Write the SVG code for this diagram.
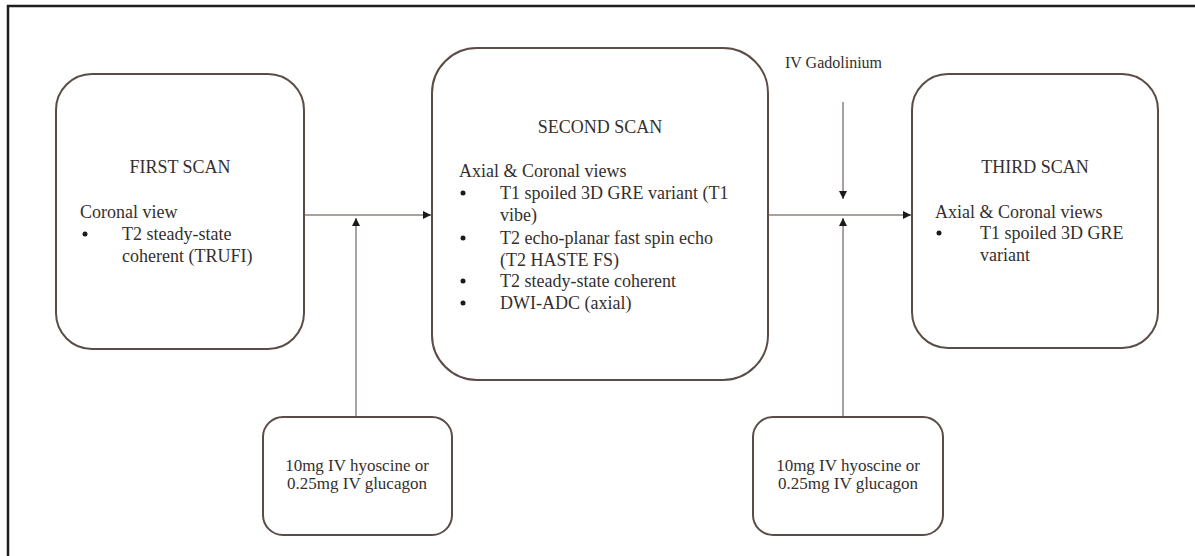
<svg xmlns="http://www.w3.org/2000/svg" width="1195" height="556" viewBox="0 0 1195 556">
<defs>
<style>
.box{fill:#ffffff;stroke:#5a4c47;stroke-width:2}
.conn{fill:none;stroke:#8e807c;stroke-width:1.5}
.t{font-family:"Liberation Serif","Times New Roman",serif;font-size:18px;fill:#352f2e}
.s{font-family:"Liberation Serif","Times New Roman",serif;font-size:17px;fill:#352f2e}
.g{font-family:"Liberation Serif","Times New Roman",serif;font-size:16px;fill:#352f2e}
.c{text-anchor:middle}
.b{fill:#1e1a1a}
</style>
<marker id="ah" viewBox="0 0 8 8" refX="8" refY="4" markerWidth="8" markerHeight="8" markerUnits="userSpaceOnUse" orient="auto">
<path d="M0,0 L8,4 L0,8 Z" fill="#1e1a1a"/>
</marker>
</defs>
<rect x="0" y="0" width="1195" height="556" fill="#ffffff"/>
<path d="M8,556 V6 H1195" fill="none" stroke="#1f1f1f" stroke-width="2.5"/>

<g id="connectors">
<line class="conn" x1="304" y1="215" x2="431" y2="215" marker-end="url(#ah)"/>
<line class="conn" x1="768" y1="215" x2="911" y2="215" marker-end="url(#ah)"/>
<line class="conn" x1="356" y1="417" x2="356" y2="218" marker-end="url(#ah)"/>
<line class="conn" x1="843" y1="417" x2="843" y2="218" marker-end="url(#ah)"/>
<line class="conn" x1="843" y1="102" x2="843" y2="199" marker-end="url(#ah)"/>
</g>

<g id="first-scan">
<rect class="box" x="56" y="74" width="248" height="275" rx="36" ry="36"/>
<text class="t c" x="180" y="173">FIRST SCAN</text>
<text class="t" x="80" y="218">Coronal view</text>
<circle class="b" cx="85" cy="234" r="2.5"/>
<text class="t" x="122" y="240">T2 steady-state</text>
<text class="t" x="122" y="262">coherent (TRUFI)</text>
</g>

<g id="second-scan">
<rect class="box" x="432" y="48" width="336" height="332" rx="45" ry="45"/>
<text class="t c" x="600" y="133">SECOND SCAN</text>
<text class="t" x="459" y="177">Axial &amp; Coronal views</text>
<circle class="b" cx="463" cy="193" r="2.5"/>
<text class="t" x="500" y="199">T1 spoiled 3D GRE variant (T1</text>
<text class="t" x="500" y="221">vibe)</text>
<circle class="b" cx="463" cy="238" r="2.5"/>
<text class="t" x="500" y="244">T2 echo-planar fast spin echo</text>
<text class="t" x="500" y="266">(T2 HASTE FS)</text>
<circle class="b" cx="463" cy="281" r="2.5"/>
<text class="t" x="500" y="287">T2 steady-state coherent</text>
<circle class="b" cx="463" cy="303" r="2.5"/>
<text class="t" x="500" y="309">DWI-ADC (axial)</text>
</g>

<g id="third-scan">
<rect class="box" x="912" y="74" width="246" height="274" rx="36" ry="36"/>
<text class="t c" x="1035" y="173">THIRD SCAN</text>
<text class="t" x="935" y="218">Axial &amp; Coronal views</text>
<circle class="b" cx="939" cy="233" r="2.5"/>
<text class="t" x="980" y="239">T1 spoiled 3D GRE</text>
<text class="t" x="980" y="261">variant</text>
</g>

<g id="gadolinium">
<text class="g" x="785" y="68">IV Gadolinium</text>
</g>

<g id="antispasmodic-1">
<rect class="box" x="263" y="417" width="189" height="118" rx="20" ry="20"/>
<text class="s c" x="357" y="471">10mg IV hyoscine or</text>
<text class="s c" x="357" y="489">0.25mg IV glucagon</text>
</g>

<g id="antispasmodic-2">
<rect class="box" x="753" y="417" width="190" height="118" rx="20" ry="20"/>
<text class="s c" x="848" y="471">10mg IV hyoscine or</text>
<text class="s c" x="848" y="489">0.25mg IV glucagon</text>
</g>
</svg>
